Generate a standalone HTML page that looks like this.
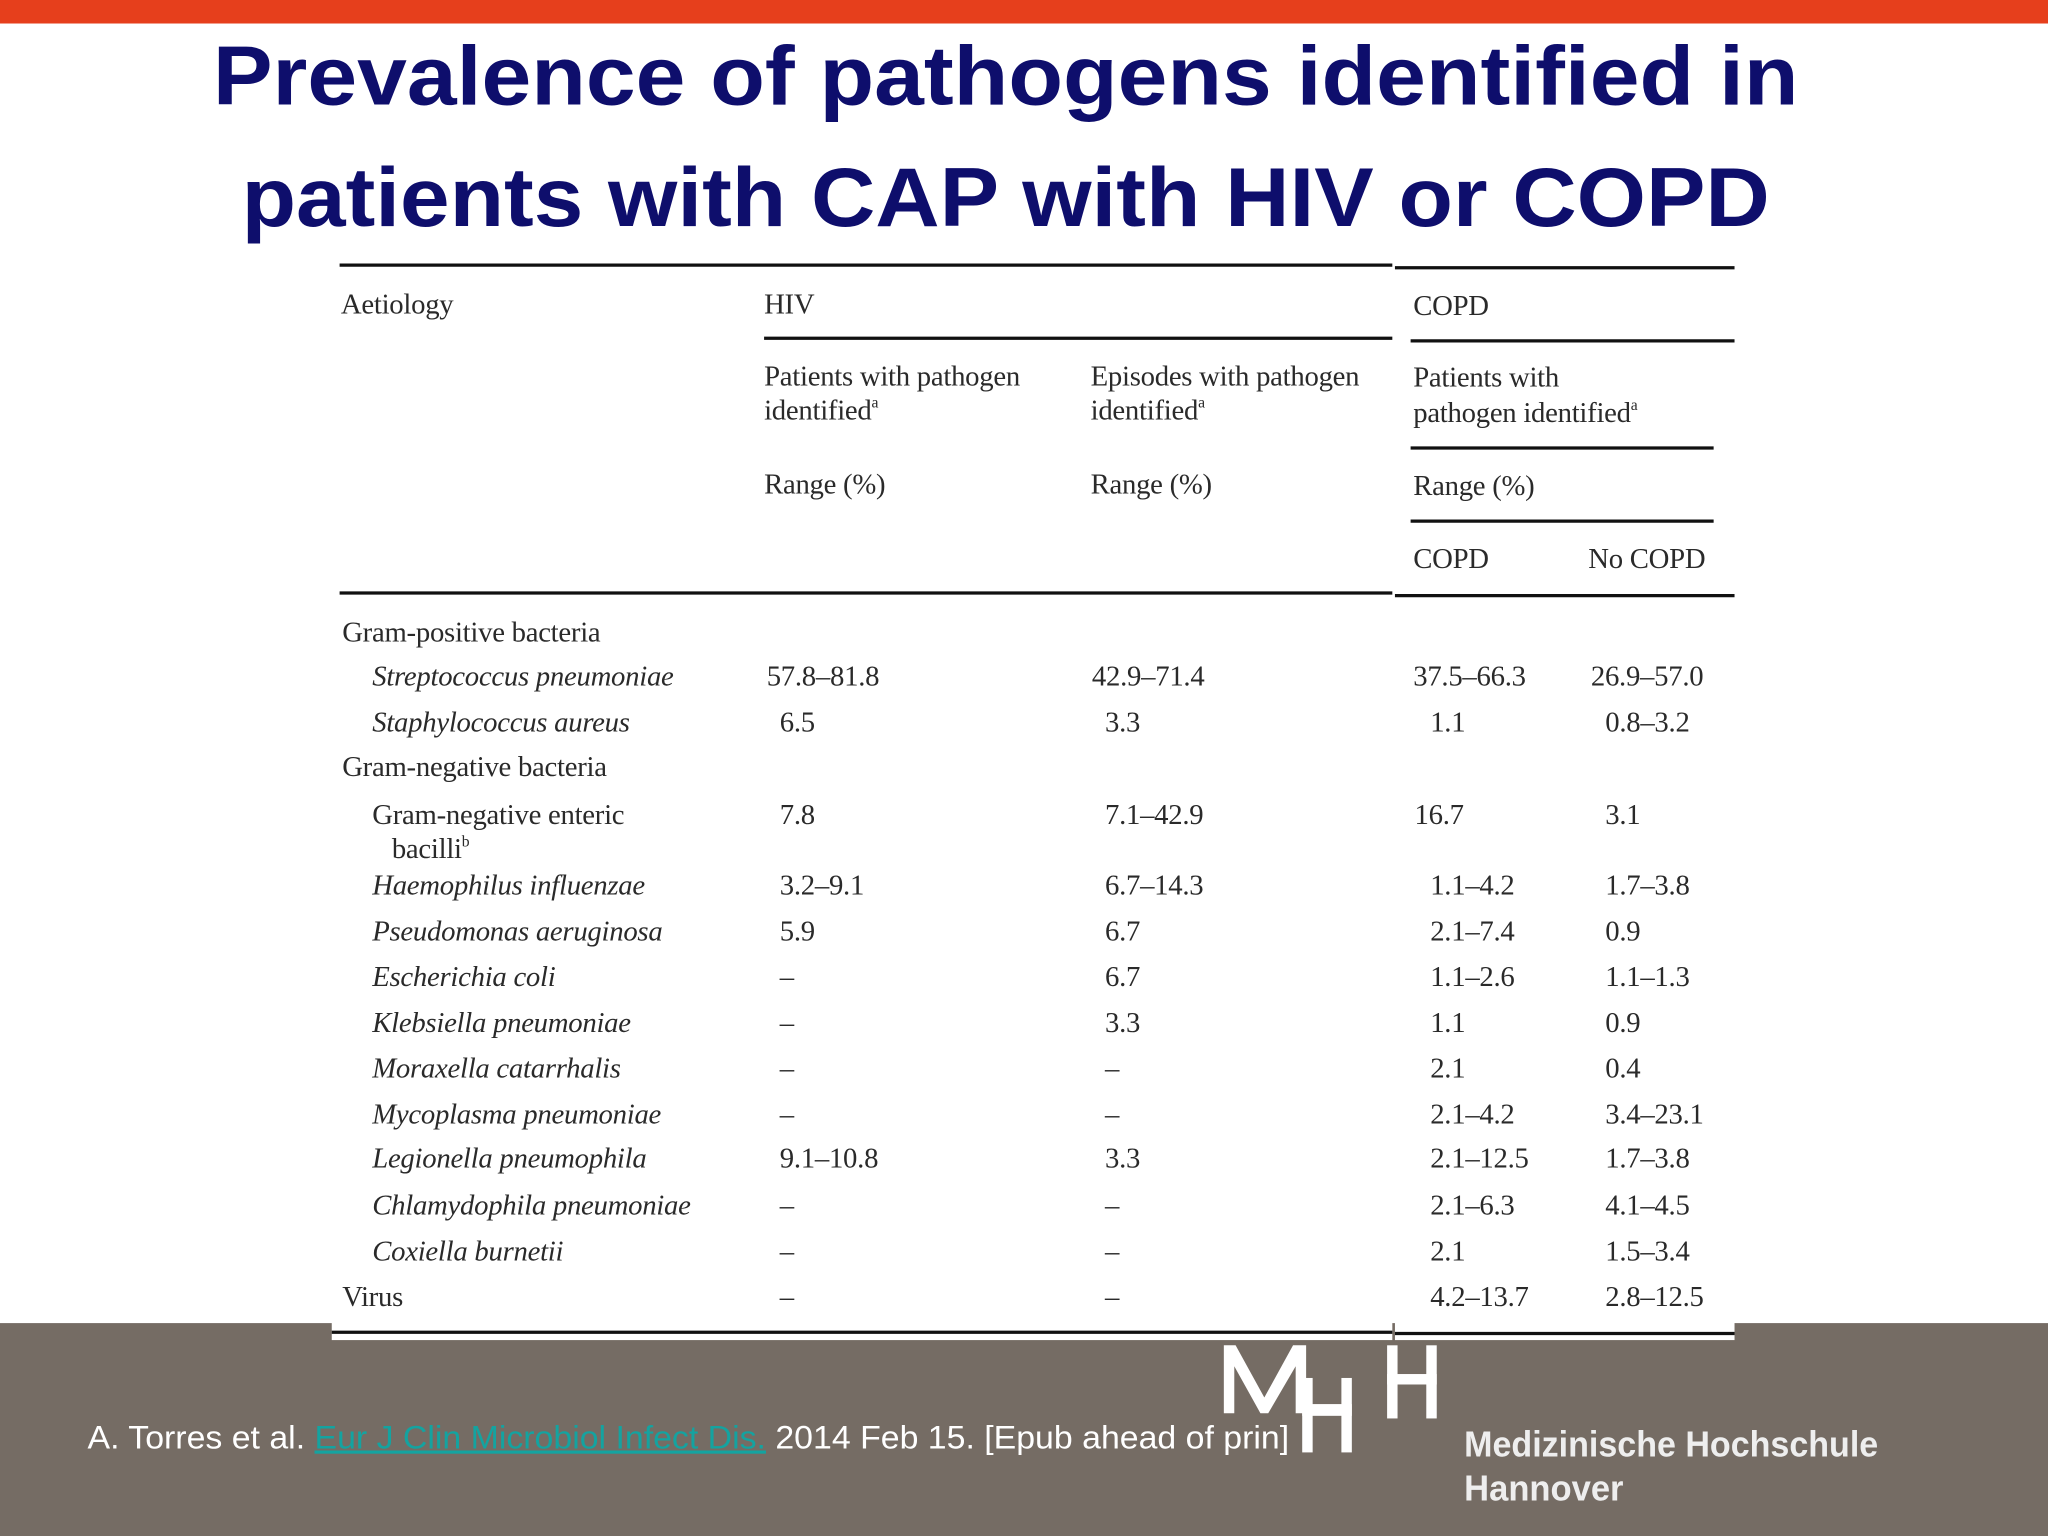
<!DOCTYPE html>
<html><head><meta charset="utf-8"><style>
html,body{margin:0;padding:0;background:#fff;}
svg{display:block;}
.t{font-family:"Liberation Serif",serif;font-size:22px;fill:#2a2a2a;letter-spacing:-0.2px;}
.i{font-style:italic;}
.ti{font-family:"Liberation Sans",sans-serif;font-weight:bold;font-size:64px;fill:#0e0e6c;}
</style></head><body>
<svg width="2048" height="1536" viewBox="0 0 1568 1176" xmlns="http://www.w3.org/2000/svg">
<rect x="0" y="0" width="1568" height="18" fill="#e63f1c"/>
<text class="ti" x="163" y="80" textLength="1214" lengthAdjust="spacingAndGlyphs">Prevalence of pathogens identified in</text>
<text class="ti" x="185" y="173" textLength="1170" lengthAdjust="spacingAndGlyphs">patients with CAP with HIV or COPD</text>

<rect x="0" y="1013" width="1568" height="163" fill="#756c64"/>
<rect x="254" y="1000" width="812" height="26" fill="#fff"/>
<rect x="1068" y="1000" width="260" height="26" fill="#fff"/>

<g stroke="#111" stroke-width="2.5">
<line x1="260" y1="203" x2="1066" y2="203"/><line x1="1068" y1="205" x2="1328" y2="205"/>
<line x1="585" y1="259" x2="1066" y2="259"/><line x1="1080" y1="261" x2="1328" y2="261"/>
<line x1="1080" y1="343" x2="1312" y2="343"/><line x1="1080" y1="399" x2="1312" y2="399"/>
<line x1="260" y1="454" x2="1066" y2="454"/><line x1="1068" y1="456" x2="1328" y2="456"/>
<line x1="254" y1="1020" x2="1066" y2="1020"/><line x1="1068" y1="1021" x2="1328" y2="1021"/>
</g>

<g>
<text class="t" x="261" y="240">Aetiology</text>
<text class="t" x="585" y="240">HIV</text>
<text class="t" x="1082" y="241">COPD</text>
<text class="t" x="585" y="295">Patients with pathogen</text>
<text class="t" x="585" y="321">identified<tspan font-size="12" dy="-9">a</tspan></text>
<text class="t" x="835" y="295">Episodes with pathogen</text>
<text class="t" x="835" y="321">identified<tspan font-size="12" dy="-9">a</tspan></text>
<text class="t" x="1082" y="296">Patients with</text>
<text class="t" x="1082" y="323">pathogen identified<tspan font-size="12" dy="-9">a</tspan></text>
<text class="t" x="585" y="378">Range (%)</text>
<text class="t" x="835" y="378">Range (%)</text>
<text class="t" x="1082" y="379">Range (%)</text>
<text class="t" x="1082" y="435">COPD</text>
<text class="t" x="1216" y="435">No COPD</text>
</g>

<g>
<text class="t" x="262" y="491">Gram-positive bacteria</text>
<text class="t i" x="285" y="525">Streptococcus pneumoniae</text>
<text class="t" x="587" y="525">57.8–81.8</text><text class="t" x="836" y="525">42.9–71.4</text><text class="t" x="1082" y="525">37.5–66.3</text><text class="t" x="1218" y="525">26.9–57.0</text>
<text class="t i" x="285" y="560">Staphylococcus aureus</text>
<text class="t" x="597" y="560">6.5</text><text class="t" x="846" y="560">3.3</text><text class="t" x="1095" y="560">1.1</text><text class="t" x="1229" y="560">0.8–3.2</text>
<text class="t" x="262" y="594">Gram-negative bacteria</text>
<text class="t" x="285" y="631">Gram-negative enteric</text>
<text class="t" x="300" y="657">bacilli<tspan font-size="12" dy="-9">b</tspan></text>
<text class="t" x="597" y="631">7.8</text><text class="t" x="846" y="631">7.1–42.9</text><text class="t" x="1083" y="631">16.7</text><text class="t" x="1229" y="631">3.1</text>
<text class="t i" x="285" y="685">Haemophilus influenzae</text>
<text class="t" x="597" y="685">3.2–9.1</text><text class="t" x="846" y="685">6.7–14.3</text><text class="t" x="1095" y="685">1.1–4.2</text><text class="t" x="1229" y="685">1.7–3.8</text>
<text class="t i" x="285" y="720">Pseudomonas aeruginosa</text>
<text class="t" x="597" y="720">5.9</text><text class="t" x="846" y="720">6.7</text><text class="t" x="1095" y="720">2.1–7.4</text><text class="t" x="1229" y="720">0.9</text>
<text class="t i" x="285" y="755">Escherichia coli</text>
<text class="t" x="597" y="755">–</text><text class="t" x="846" y="755">6.7</text><text class="t" x="1095" y="755">1.1–2.6</text><text class="t" x="1229" y="755">1.1–1.3</text>
<text class="t i" x="285" y="790">Klebsiella pneumoniae</text>
<text class="t" x="597" y="790">–</text><text class="t" x="846" y="790">3.3</text><text class="t" x="1095" y="790">1.1</text><text class="t" x="1229" y="790">0.9</text>
<text class="t i" x="285" y="825">Moraxella catarrhalis</text>
<text class="t" x="597" y="825">–</text><text class="t" x="846" y="825">–</text><text class="t" x="1095" y="825">2.1</text><text class="t" x="1229" y="825">0.4</text>
<text class="t i" x="285" y="860">Mycoplasma pneumoniae</text>
<text class="t" x="597" y="860">–</text><text class="t" x="846" y="860">–</text><text class="t" x="1095" y="860">2.1–4.2</text><text class="t" x="1229" y="860">3.4–23.1</text>
<text class="t i" x="285" y="894">Legionella pneumophila</text>
<text class="t" x="597" y="894">9.1–10.8</text><text class="t" x="846" y="894">3.3</text><text class="t" x="1095" y="894">2.1–12.5</text><text class="t" x="1229" y="894">1.7–3.8</text>
<text class="t i" x="285" y="930">Chlamydophila pneumoniae</text>
<text class="t" x="597" y="930">–</text><text class="t" x="846" y="930">–</text><text class="t" x="1095" y="930">2.1–6.3</text><text class="t" x="1229" y="930">4.1–4.5</text>
<text class="t i" x="285" y="965">Coxiella burnetii</text>
<text class="t" x="597" y="965">–</text><text class="t" x="846" y="965">–</text><text class="t" x="1095" y="965">2.1</text><text class="t" x="1229" y="965">1.5–3.4</text>
<text class="t" x="262" y="1000">Virus</text>
<text class="t" x="597" y="1000">–</text><text class="t" x="846" y="1000">–</text><text class="t" x="1095" y="1000">4.2–13.7</text><text class="t" x="1229" y="1000">2.8–12.5</text>
</g>

<text x="67" y="1109" font-family="Liberation Sans,sans-serif" font-size="24.5" fill="#fff" textLength="920" lengthAdjust="spacingAndGlyphs">A. Torres et al. <tspan fill="#14a3a0" text-decoration="underline">Eur J Clin Microbiol Infect Dis.</tspan> 2014 Feb 15. [Epub ahead of prin]</text>

<g fill="#fff">
<polygon points="937,1030 946,1030 968,1070 990,1030 1000,1030 1000,1082 992,1082 992,1046 971,1082 965,1082 945,1046 945,1082 937,1082"/>
<rect x="997" y="1055" width="8" height="57"/><rect x="1027" y="1055" width="8" height="57"/><rect x="997" y="1075" width="38" height="9"/>
<rect x="1062" y="1030" width="8" height="56"/><rect x="1092" y="1030" width="8" height="56"/><rect x="1062" y="1052" width="38" height="8"/>
</g>
<text x="1121" y="1115" font-family="Liberation Sans,sans-serif" font-weight="bold" font-size="28" fill="#eee" textLength="317" lengthAdjust="spacingAndGlyphs">Medizinische Hochschule</text>
<text x="1121" y="1149" font-family="Liberation Sans,sans-serif" font-weight="bold" font-size="28" fill="#eee" textLength="122" lengthAdjust="spacingAndGlyphs">Hannover</text>
</svg>
</body></html>
